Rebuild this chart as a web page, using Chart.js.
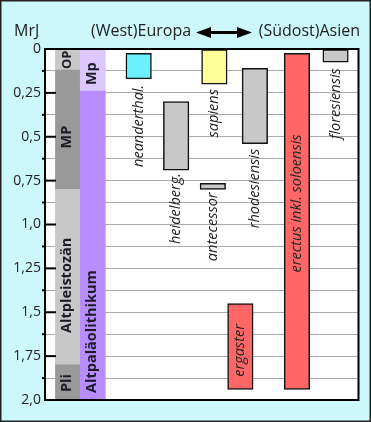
<!DOCTYPE html>
<html>
<head>
<meta charset="utf-8">
<script src="https://cdn.jsdelivr.net/npm/chart.js@4.4.1/dist/chart.umd.min.js"></script>
<style>
  html, body { margin: 0; padding: 0; background: #ccf8fc; }
  #wrap { position: relative; width: 371px; height: 422px; }
</style>
</head>
<body>
<div id="wrap"><canvas id="chart" width="371" height="422"></canvas></div>
<script>
// y axis (MrJ = million years ago), reversed
const yTickLabels = ['0', '0,25', '0,5', '0,75', '1,0', '1,25', '1,5', '1,75', '2,0'];

// left reference columns (period / culture)
const bandNames = ['OP', 'MP', 'Altpleistozän', 'Pli', 'Mp', 'Altpaläolithikum'];
const bandCol   = [0.6, 0.6, 0.6, 0.6, 1.25, 1.25];
const bandFrom  = [0, 0.12, 0.8, 1.8, 0, 0.24];
const bandTo    = [0.12, 0.8, 1.8, 2.0, 0.24, 2.0];

// species ranges
const species     = ['neanderthal.', 'heidelberg.', 'sapiens', 'antecessor', 'rhodesiensis', 'ergaster', 'erectus inkl. soloensis', 'floresiensis'];
const speciesCol  = [2.45, 3.43, 4.43, 4.39, 5.49, 5.11, 6.59, 7.6];
const speciesFrom = [0.025, 0.3, 0, 0.765, 0.11, 1.45, 0.025, 0];
const speciesTo   = [0.17, 0.69, 0.2, 0.8, 0.54, 1.94, 1.94, 0.075];

// styles
const bandColors = ['#c8c8c8', '#999999', '#c8c8c8', '#999999', '#dcc8ff', '#b98cff'];
const bandTextShift = [1, 41, 32, 8, 6, 7];
const bandTextSize = [13, 14.5, 14.5, 14.5, 14.5, 14.5];
const speciesColors = ['#6cf0ff', '#c8c8c8', '#ffff99', '#c8c8c8', '#c8c8c8', '#ff6666', '#ff6666', '#c8c8c8'];
const speciesLabelMode = ['below', 'below', 'below', 'below', 'below', 'center', 'center', 'below'];
const speciesLabelShift = [6, 3, 5, 3, 5, 4, -18, 6];

const FONT = '"Open Sans", sans-serif';

const decor = {
  id: 'decor',
  beforeDraw(chart) {
    const { ctx, chartArea: a } = chart;
    ctx.save();
    ctx.fillStyle = '#ccf8fc';
    ctx.fillRect(0, 0, chart.width, chart.height);
    ctx.strokeStyle = '#222';
    ctx.lineWidth = 1.5;
    ctx.strokeRect(0.75, 0.75, chart.width - 1.5, chart.height - 1.5);
    ctx.fillStyle = '#fff';
    ctx.fillRect(a.left, a.top, a.right - a.left, a.bottom - a.top);
    ctx.restore();
  },
  afterDatasetsDraw(chart) {
    const { ctx, chartArea: a, scales } = chart;
    const y = scales.y;
    ctx.save();

    // major ticks inside the frame, small minor marks outside
    ctx.strokeStyle = '#000';
    ctx.lineWidth = 2;
    yTickLabels.forEach((_, i) => {
      const py = y.getPixelForValue(i * 0.25);
      ctx.beginPath(); ctx.moveTo(a.left, py); ctx.lineTo(a.left + 11, py); ctx.stroke();
      if (i < yTickLabels.length - 1) {
        const pm = y.getPixelForValue(i * 0.25 + 0.125);
        ctx.beginPath(); ctx.moveTo(a.left - 3, pm); ctx.lineTo(a.left, pm); ctx.stroke();
      }
    });
    ctx.strokeRect(a.left, a.top, a.right - a.left, a.bottom - a.top);

    // band labels
    ctx.fillStyle = '#1c1c28';
    ctx.textBaseline = 'middle';
    chart.getDatasetMeta(0).data.forEach((bar, i) => {
      const bottom = Math.max(bar.y, bar.base);
      ctx.save();
      ctx.font = 'bold ' + bandTextSize[i] + 'px ' + FONT;
      ctx.translate(bar.x - 1, bottom - bandTextShift[i]);
      ctx.rotate(-Math.PI / 2);
      ctx.textAlign = 'left';
      ctx.fillText(bandNames[i], 0, 0);
      ctx.restore();
    });

    // species labels
    ctx.fillStyle = '#222';
    ctx.font = 'italic 14.5px ' + FONT;
    chart.getDatasetMeta(1).data.forEach((bar, i) => {
      const top = Math.min(bar.y, bar.base), bottom = Math.max(bar.y, bar.base);
      ctx.save();
      if (speciesLabelMode[i] === 'below') {
        ctx.translate(bar.x, bottom + speciesLabelShift[i]);
        ctx.rotate(-Math.PI / 2);
        ctx.textAlign = 'right';
      } else {
        ctx.translate(bar.x, (top + bottom) / 2 + speciesLabelShift[i]);
        ctx.rotate(-Math.PI / 2);
        ctx.textAlign = 'center';
      }
      ctx.fillText(species[i], 0, 0);
      ctx.restore();
    });

    // header
    ctx.fillStyle = '#222';
    ctx.font = '16px ' + FONT;
    ctx.textAlign = 'left';
    ctx.textBaseline = 'middle';
    ctx.fillText('MrJ', 14, 31);
    ctx.fillText('(West)Europa', 91, 31);
    ctx.textAlign = 'right';
    ctx.fillText('(Südost)Asien', 360, 31);

    // double arrow
    const x1 = 196, x2 = 252, ay = 32.5;
    ctx.fillStyle = '#000';
    ctx.fillRect(x1 + 10, ay - 1.5, x2 - x1 - 20, 3);
    ctx.beginPath();
    ctx.moveTo(x1, ay); ctx.lineTo(x1 + 15, ay - 5.5); ctx.lineTo(x1 + 15, ay + 5.5); ctx.closePath(); ctx.fill();
    ctx.beginPath();
    ctx.moveTo(x2, ay); ctx.lineTo(x2 - 15, ay - 5.5); ctx.lineTo(x2 - 15, ay + 5.5); ctx.closePath(); ctx.fill();

    ctx.restore();
  }
};

new Chart(document.getElementById('chart'), {
  type: 'bar',
  data: {
    datasets: [
      {
        data: bandNames.map((_, i) => ({ x: bandCol[i], y: [bandFrom[i], bandTo[i]] })),
        backgroundColor: bandColors,
        borderWidth: 0,
        barThickness: 25,
        grouped: false
      },
      {
        data: species.map((_, i) => ({ x: speciesCol[i], y: [speciesFrom[i], speciesTo[i]] })),
        backgroundColor: speciesColors,
        borderColor: '#111',
        borderWidth: 1.5,
        borderSkipped: false,
        barThickness: 25.5,
        grouped: false
      }
    ]
  },
  options: {
    responsive: false,
    devicePixelRatio: 1,
    animation: false,
    layout: { padding: { top: 49, right: 12.5, bottom: 22, left: 0 } },
    plugins: { legend: { display: false }, tooltip: { enabled: false } },
    scales: {
      x: { type: 'linear', min: 0, max: 8.2, offset: false, display: false },
      y: {
        reverse: true, min: 0, max: 2.0,
        afterFit(scale) { scale.width = 45; },
        border: { display: false },
        grid: { color: '#aaaaaa', lineWidth: 1, drawTicks: false },
        ticks: {
          stepSize: 0.125,
          padding: 4,
          color: '#222',
          font: { family: '"Open Sans", sans-serif', size: 14 },
          callback: (v) => {
            const k = Math.round(v / 0.25);
            return Math.abs(v - k * 0.25) < 1e-6 ? yTickLabels[k] : '';
          }
        }
      }
    }
  },
  plugins: [decor]
});
</script>
</body>
</html>
